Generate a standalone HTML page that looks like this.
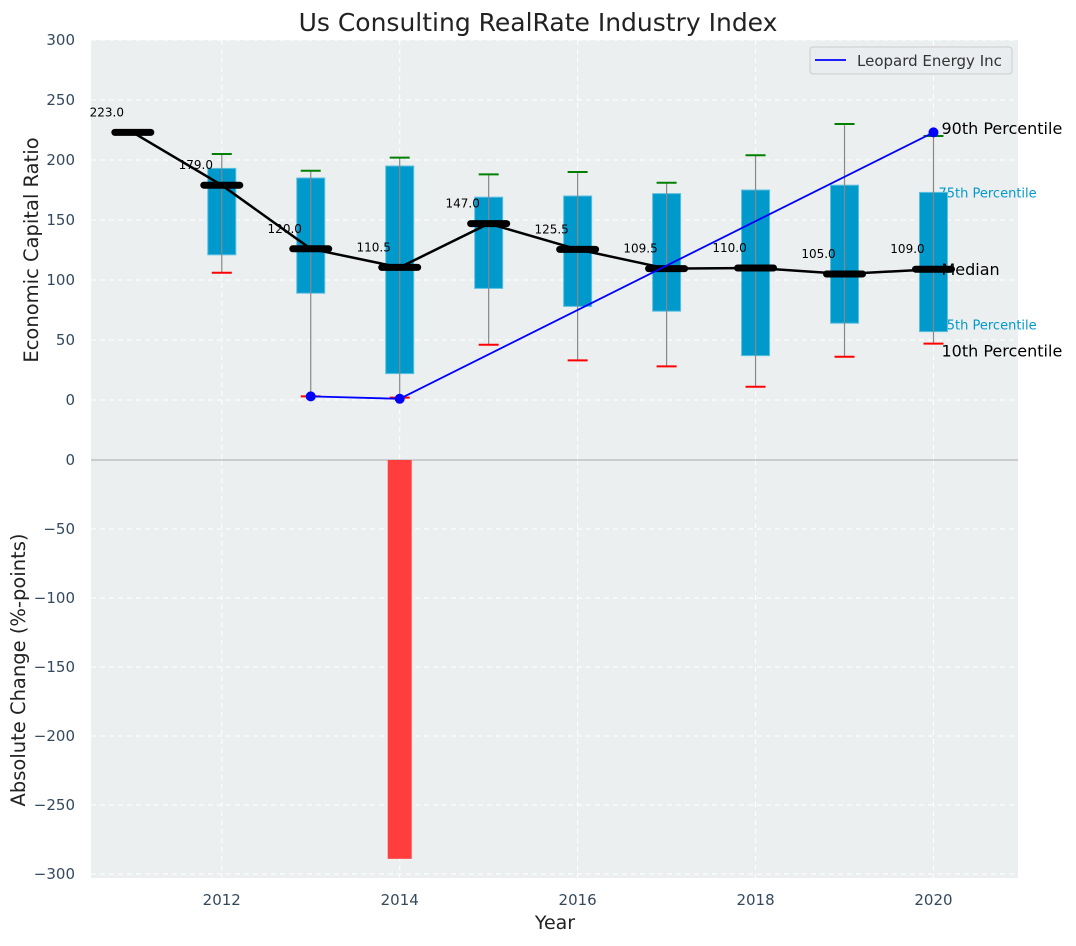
<!DOCTYPE html>
<html><head><meta charset="utf-8">
<style>body{margin:0;background:#fff;font-family:"DejaVu Sans","Liberation Sans",sans-serif}svg text{font-family:"DejaVu Sans","Liberation Sans",sans-serif}</style>
</head><body>
<svg id="chart" width="1076" height="942" xmlns="http://www.w3.org/2000/svg"></svg>
<script>
const years=[2011,2012,2013,2014,2015,2016,2017,2018,2019,2020];
const medians=[223,179,126,110.5,147,125.5,109.5,110,105,109];
const medianLabels=["223.0","179.0","120.0","110.5","147.0","125.5","109.5","110.0","105.0","109.0"];
const boxYears=[2012,2013,2014,2015,2016,2017,2018,2019,2020];
const q25=[121,89,22,93,78,74,37,64,57];
const q75=[193,185,195,169,170,172,175,179,173];
const p10=[106,3,2,46,33,28,11,36,47];
const p90=[205,191,202,188,190,181,204,230,220];
const companyYears=[2013,2014,2020];
const companyValues=[3,1,223];
const changeYears=[2014];
const changeValues=[-289];
const xTicks=[2012,2014,2016,2018,2020];
const topTicks=[0,50,100,150,200,250,300];
const botTicks=[0,-50,-100,-150,-200,-250,-300];

const L=91,R=1018;
const X=v=>L+(v-2010.53)/(2020.95-2010.53)*(R-L);
const YT=v=>400-v*1.2;
const YB=v=>460-v*1.38;
const svg=document.getElementById('chart');
const NS='http://www.w3.org/2000/svg';
function mk(t,a,txt){const e=document.createElementNS(NS,t);for(const k in a)e.setAttribute(k,a[k]);if(txt!==undefined)e.textContent=txt;svg.appendChild(e);return e;}

let e;
e=mk('rect',{x:L,y:40,width:R-L,height:420,fill:'#eceff0'});


e=mk('rect',{x:L,y:460,width:R-L,height:418,fill:'#eceff0'});


xTicks.forEach(t=>{[[40,460],[460,878]].forEach(r=>{e=mk('line',{x1:X(t),x2:X(t),y1:r[0],y2:r[1],stroke:'#fff','stroke-dasharray':'5,4','stroke-width':1});

});
e=mk('text',{x:X(t),y:905,'text-anchor':'middle','font-size':15,fill:'#34495e'},t);

});
topTicks.forEach(t=>{e=mk('line',{x1:L,x2:R,y1:YT(t),y2:YT(t),stroke:'#fff','stroke-dasharray':'5,4'});


e=mk('text',{x:75,y:YT(t)+5,'text-anchor':'end','font-size':15,fill:'#34495e'},t);

});
botTicks.forEach(t=>{e=mk('line',{x1:L,x2:R,y1:YB(t),y2:YB(t),stroke:t===0?'#aaa':'#fff','stroke-dasharray':t===0?'':'5,4'});


e=mk('text',{x:75,y:YB(t)+5,'text-anchor':'end','font-size':15,fill:'#34495e'},t===0?'0':'\u2212'+(-t));

});
const last=boxYears.length-1;
e=mk('text',{x:X(2020)+8,y:YT(p90[last])-2,'font-size':16,fill:'#000'},'90th Percentile');


e=mk('text',{x:X(2020)+5,y:YT(q75[last])+5,'font-size':13,fill:'#0099cc'},'75th Percentile');


e=mk('text',{x:X(2020)+5,y:YT(q25[last])-2,'font-size':13,fill:'#0099cc'},'25th Percentile');


e=mk('text',{x:X(2020)+8,y:YT(p10[last])+13,'font-size':16,fill:'#000'},'10th Percentile');


boxYears.forEach((yr,i)=>{const x=X(yr);
e=mk('rect',{x:x-14,y:YT(q75[i]),width:28,height:YT(q25[i])-YT(q75[i]),fill:'#0099cc',stroke:'#5bc0e0','stroke-width':1});


e=mk('line',{x1:x,x2:x,y1:YT(p90[i]),y2:YT(p10[i]),stroke:'#888','stroke-width':1.2});


e=mk('line',{x1:x-10,x2:x+10,y1:YT(p90[i]),y2:YT(p90[i]),stroke:'green','stroke-width':2});


e=mk('line',{x1:x-10,x2:x+10,y1:YT(p10[i]),y2:YT(p10[i]),stroke:'red','stroke-width':2});

});
e=mk('polyline',{points:years.map((y,i)=>X(y)+','+YT(medians[i])).join(' '),fill:'none',stroke:'#000','stroke-width':2.5});


years.forEach((y,i)=>{const x=X(y),yy=YT(medians[i]);
e=mk('line',{x1:x-18,x2:x+18,y1:yy,y2:yy,stroke:'#000','stroke-width':7,'stroke-linecap':'round'});


e=mk('text',{x:x-26,y:yy-16,'font-size':12,'text-anchor':'middle',fill:'#000'},medianLabels[i]);

});
e=mk('text',{x:X(2020)+8,y:YT(109)+6,'font-size':16,fill:'#000'},'Median');


e=mk('polyline',{points:companyYears.map((y,i)=>X(y)+','+YT(companyValues[i])).join(' '),fill:'none',stroke:'blue','stroke-width':1.8});


companyYears.forEach((y,i)=>{e=mk('circle',{cx:X(y),cy:YT(companyValues[i]),r:5,fill:'blue'});

});
changeYears.forEach((y,i)=>{const v=changeValues[i];
e=mk('rect',{x:X(y)-12,y:YB(Math.max(0,v)),width:24,height:Math.abs(YB(v)-YB(0)),fill:'#ff3d3d'});

});
e=mk('rect',{x:810,y:47,width:202,height:27,rx:3,fill:'#eaedf0',stroke:'#ccc'});


e=mk('line',{x1:815,x2:846,y1:60,y2:60,stroke:'blue','stroke-width':1.8});


e=mk('text',{x:857,y:66,'font-size':15,fill:'#333'},'Leopard Energy Inc');


e=mk('text',{x:538,y:31,'text-anchor':'middle','font-size':25,fill:'#222'},'Us Consulting RealRate Industry Index');


e=mk('text',{x:555,y:929,'text-anchor':'middle','font-size':19,fill:'#222'},'Year');


e=mk('text',{x:38,y:250,'text-anchor':'middle','font-size':19.5,fill:'#222',transform:'rotate(-90 38 250)'},'Economic Capital Ratio');


e=mk('text',{x:25,y:670,'text-anchor':'middle','font-size':19.5,fill:'#222',transform:'rotate(-90 25 670)'},'Absolute Change (%-points)');


</script>
</body></html>
